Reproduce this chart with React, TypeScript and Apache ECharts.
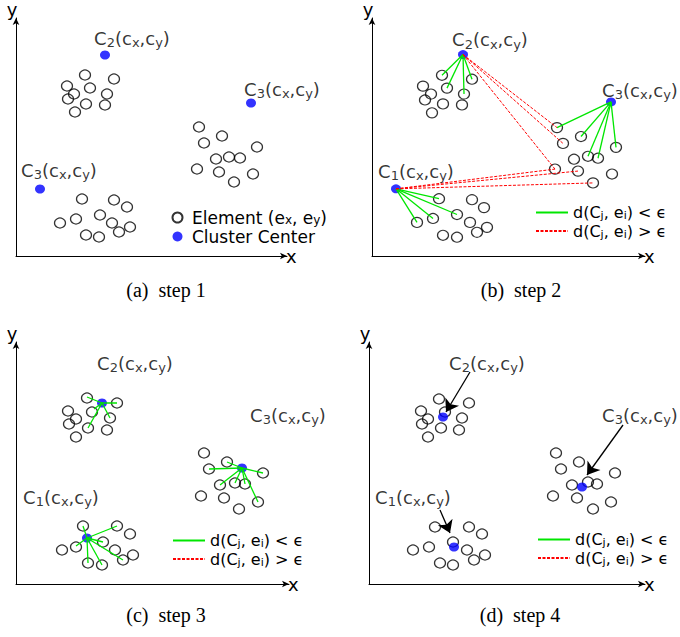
import React, { useEffect, useRef } from "react";
import * as echarts from "echarts";

const FONT = "DejaVu Sans";
const SERIF = "Liberation Serif";
const GREEN = "#00e600";
const RED = "#ff0000";
const BLUE = "#0000ff";

// ---- panel (a) step 1 ----
const aElements = [
  [69, 181], [98, 177], [51, 170], [74, 168], [58, 162], [91, 162], [52, 157], [70, 152], [89, 151], [59, 144],
  [183, 129], [206, 120], [188, 113], [241, 109], [200, 97], [213, 99], [224, 98], [181, 87], [203, 84], [237, 82], [218, 74],
  [66, 57], [98, 56], [111, 49], [60, 37], [84, 41], [44, 33], [96, 33], [114, 29], [70, 21], [83, 19], [103, 24],
];
const aCenters = [[89, 201], [235, 153], [24, 67]];
const aLabels = [[116, 218, "2"], [266, 167, "3"], [43, 86, "3"]];

// ---- panel (b) step 2 ----
const bElements = [
  [70, 183], [100, 179], [51, 172], [75, 170], [59, 164], [92, 164], [53, 158], [71, 154], [90, 153], [60, 145],
  [185, 130], [209, 121], [191, 114], [244, 110], [202, 98], [216, 101], [226, 99], [183, 88], [206, 86], [240, 83], [221, 74],
  [67, 58], [100, 57], [112, 49], [61, 38], [85, 42], [45, 34], [98, 34], [115, 29], [71, 21], [85, 19], [105, 24],
];
const bCenters = [[91, 204], [239, 156], [24, 68]];
const bLabels = [[118, 219, "2"], [268, 168, "3"], [44, 86, "1"]];
const bNearC2 = [[70, 183], [75, 170], [92, 164], [100, 179]];
const bNearC3 = [[185, 130], [209, 121], [216, 101], [226, 99], [244, 110]];
const bNearC1 = [[67, 58], [85, 42], [61, 38], [45, 34]];
const bFarC2 = [[185, 130], [191, 114], [183, 88]];
const bFarC1 = [[183, 88], [206, 86], [221, 74]];

// ---- panel (c) step 3 ----
const cElements = [
  [71, 186], [101, 181], [52, 173], [76, 172], [60, 165], [94, 166], [53, 160], [72, 156], [91, 154], [60, 147],
  [188, 131], [211, 122], [193, 115], [247, 111], [204, 99], [219, 101], [229, 100], [185, 88], [208, 86], [242, 82], [223, 75],
  [67, 58], [101, 58], [114, 50], [60, 37], [87, 42], [46, 34], [99, 34], [117, 29], [72, 21], [86, 19], [107, 24],
];
const cCenters = [[86, 181], [226, 116], [71, 46]];
const cLabels = [[119, 221, "2"], [272, 169, "3"], [45, 87, "1"]];
const cNearC2 = [[71, 187], [101, 181], [78, 175], [94, 166], [72, 156]];
const cNearC3 = [[193, 115], [211, 122], [247, 111], [204, 99], [229, 100], [242, 82], [219, 101]];
const cNearC1 = [[67, 58], [101, 58], [60, 38], [87, 42], [72, 21], [86, 19], [107, 24]];

// ---- panel (d) step 4 ----
const dElements = [
  [70, 185], [100, 181], [52, 173], [76, 172], [59, 165], [93, 166], [53, 160], [72, 156], [90, 154], [59, 147],
  [187, 131], [210, 122], [192, 115], [246, 111], [203, 99], [219, 102], [228, 100], [184, 88], [208, 86], [242, 82], [224, 75],
  [66, 57], [100, 57], [113, 50], [60, 37], [84, 42], [44, 34], [98, 34], [116, 29], [71, 21], [84, 19], [105, 24],
];
const dCenters = [[74, 167], [213, 97], [85, 37]];
const dLabels = [[118, 221, "2"], [271, 169, "3"], [44, 87, "1"]];
const dArrows = [
  [[101, 212], [77, 172]],
  [[254, 159], [218, 109]],
  [[71, 74], [81, 51]],
];

const captions = ["(a)\u00a0 step 1", "(b)\u00a0 step 2", "(c)\u00a0 step 3", "(d)\u00a0 step 4"];
const legendA = ["Element", "Cluster Center"];
const legendLines = ["near", "far"];
const legendText: Record<string, string> = {
  Element: "{f|Element (e}{s|x}{t|, e}{s|y}{t|)}",
  "Cluster Center": "{f|Cluster Center}",
  near: "{t|d(C}{s|j}{t|, e}{s|i}{t|) < \u03f5}",
  far: "{t|d(C}{s|j}{t|, e}{s|i}{t|) > \u03f5}",
};

// layout of the four panels (pixels)
const GRIDS = [
  { left: 16, top: 18, width: 271, height: 238 },
  { left: 372, top: 15, width: 273, height: 241 },
  { left: 16, top: 342, width: 273, height: 242 },
  { left: 369, top: 342, width: 276, height: 242 },
];
const CAPTION_POS = [[166, 290], [521, 290], [166, 615], [520, 615]];

type Link = { from: number[]; to: number[][]; kind: "near" | "far" };
const panels = [
  { elements: aElements, centers: aCenters, labels: aLabels, links: [] as Link[] },
  {
    elements: bElements, centers: bCenters, labels: bLabels,
    links: [
      { from: bCenters[0], to: bNearC2, kind: "near" },
      { from: bCenters[1], to: bNearC3, kind: "near" },
      { from: bCenters[2], to: bNearC1, kind: "near" },
      { from: bCenters[0], to: bFarC2, kind: "far" },
      { from: bCenters[2], to: bFarC1, kind: "far" },
    ] as Link[],
  },
  {
    elements: cElements, centers: cCenters, labels: cLabels,
    links: [
      { from: cCenters[0], to: cNearC2, kind: "near" },
      { from: cCenters[1], to: cNearC3, kind: "near" },
      { from: cCenters[2], to: cNearC1, kind: "near" },
    ] as Link[],
  },
  { elements: dElements, centers: dCenters, labels: dLabels, links: [] as Link[] },
];

function clusterLabel(sub: string) {
  return `{m|C}{s|${sub}}{m|(c}{s|x}{m|,c}{s|y}{m|)}`;
}

function buildOption() {
  const series: any[] = [];
  panels.forEach((p, i) => {
    const ax = { xAxisIndex: i, yAxisIndex: i, silent: true };
    series.push({
      ...ax, type: "scatter", name: "Element", data: p.elements, symbol: "circle", symbolSize: [11, 10],
      itemStyle: { color: "rgba(0,0,0,0)", borderColor: "#000", borderWidth: 1.2 }, z: 2,
    });
    series.push({
      ...ax, type: "scatter", name: "Cluster Center", data: p.centers, symbol: "circle", symbolSize: [10, 9],
      itemStyle: { color: BLUE }, z: 3,
    });
    p.links.forEach((l) => {
      l.to.forEach((t) => {
        series.push({
          ...ax, type: "line", name: l.kind, data: [l.from, t], symbol: "none", z: 4,
          lineStyle: l.kind === "near" ? { color: GREEN, width: 1.3 } : { color: RED, width: 1, type: [3, 1.5] },
          itemStyle: { color: l.kind === "near" ? GREEN : RED },
        });
      });
    });
    series.push({
      ...ax, type: "scatter", name: "labels", symbolSize: 1, itemStyle: { color: "rgba(0,0,0,0)" }, z: 6,
      data: p.labels.map((l) => ({ value: [l[0], l[1]], name: String(l[2]) })),
      label: {
        show: true, position: "inside", formatter: (q: any) => clusterLabel(q.name),
        rich: {
          m: { fontSize: 18, lineHeight: 22, fontFamily: FONT, color: "#000" },
          s: { fontSize: 13, lineHeight: 11, verticalAlign: "bottom", fontFamily: FONT, color: "#000" },
        },
      },
    });
  });
  series.push({
    type: "lines", coordinateSystem: "cartesian2d", xAxisIndex: 3, yAxisIndex: 3, silent: true, z: 5,
    symbol: ["none", "arrow"], symbolSize: 12,
    lineStyle: { color: "#000", width: 1.3, opacity: 1 },
    data: dArrows.map((a) => ({ coords: a })),
  });

  const nameStyle = { fontSize: 18, fontFamily: FONT, color: "#000" };
  const axisLine = { show: true, onZero: false, symbol: ["none", "arrow"], symbolSize: [5, 7], lineStyle: { color: "#000", width: 1 } };
  const xAxis = GRIDS.map((g, i) => ({
    gridIndex: i, type: "value", min: 0, max: g.width, axisLine, axisTick: { show: false },
    axisLabel: { show: false }, splitLine: { show: false }, name: "x", nameLocation: "end", nameGap: -1,
    nameTextStyle: { ...nameStyle, align: "left", verticalAlign: "middle", padding: [9, 0, 0, 0] },
  }));
  const yAxis = GRIDS.map((g, i) => ({
    gridIndex: i, type: "value", min: 0, max: g.height, axisLine, axisTick: { show: false },
    axisLabel: { show: false }, splitLine: { show: false }, name: "y", nameLocation: "end", nameGap: 0,
    nameTextStyle: { ...nameStyle, align: "center", verticalAlign: "bottom", padding: [0, 8, 0, 0] },
  }));

  const richA = {
    t: { fontSize: 17, lineHeight: 16, fontFamily: FONT, color: "#000" },
    f: { fontSize: 17, lineHeight: 16, fontFamily: FONT, color: "#000", padding: [0, 0, 0, 4] },
    s: { fontSize: 12, lineHeight: 9, verticalAlign: "bottom", fontFamily: FONT, color: "#000" },
  };
  const richL = {
    t: { fontSize: 16, lineHeight: 17, fontFamily: FONT, color: "#000" },
    s: { fontSize: 11, lineHeight: 8, verticalAlign: "bottom", fontFamily: FONT, color: "#000" },
  };
  const lineLegend = (left: number, top: number) => ({
    data: legendLines, orient: "vertical", left, top, padding: 0, itemGap: 2, itemWidth: 32, itemHeight: 10,
    selectedMode: false, formatter: (n: string) => legendText[n], textStyle: { rich: richL },
    itemStyle: { opacity: 0 },
  });

  return {
    animation: false,
    grid: GRIDS.map((g) => ({ ...g, containLabel: false })),
    xAxis, yAxis,
    legend: [
      {
        data: legendA, orient: "vertical", left: 171.5, top: 209, padding: 0, itemGap: 2, itemWidth: 11, itemHeight: 10,
        selectedMode: false, formatter: (n: string) => legendText[n], textStyle: { rich: richA },
      },
      lineLegend(535, 204.5),
      lineLegend(172, 532.5),
      lineLegend(537, 531.5),
    ],
    graphic: captions.map((c, i) => ({
      type: "text", x: CAPTION_POS[i][0], y: CAPTION_POS[i][1], silent: true,
      style: { text: c, fontSize: 20, fontFamily: SERIF, fill: "#000", align: "center", verticalAlign: "middle" },
    })),
    series,
  };
}

export default function App() {
  const ref = useRef<HTMLDivElement>(null);
  useEffect(() => {
    if (!ref.current) return;
    const chart = echarts.init(ref.current, undefined, { renderer: "svg" });
    chart.setOption(buildOption() as any);
    return () => chart.dispose();
  }, []);
  return (
    <div
      ref={ref}
      style={{ position: "fixed", left: 0, top: 0, width: 680, height: 637, background: "#fff" }}
    />
  );
}
